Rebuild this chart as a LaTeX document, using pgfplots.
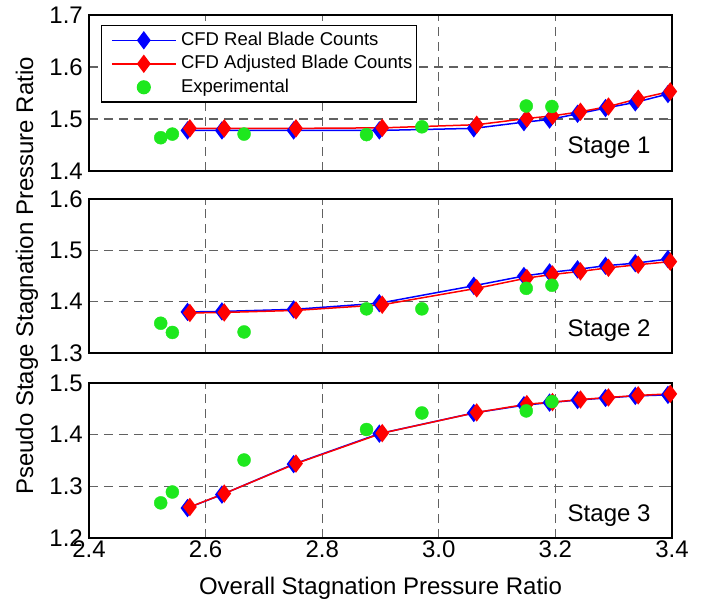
\documentclass[border=0pt]{standalone}
\usepackage{pgfplots}
\pgfplotsset{compat=1.18}
\usepackage{fontspec}
\setmainfont{Liberation Sans}

\definecolor{cfdblue}{rgb}{0,0,1}
\definecolor{cfdred}{rgb}{1,0,0}
\definecolor{expgreen}{RGB}{30,232,30}

\tikzset{
  stagelabel/.style={anchor=base east, font=\fontsize{24}{28}\selectfont,
    xshift=-18pt, yshift=17pt},
}

\pgfplotsset{
  stage/.style={
    width=583pt, scale only axis,
    xmin=2.4, xmax=3.4,
    xtick={2.4,2.6,2.8,3.0,3.2,3.4},
    grid=major,
    major grid style={dash pattern=on 9pt off 6pt, black!62, line width=1.3pt},
    axis line style={line width=1.6pt},
    tick style={black!60, line width=1pt},
    tick align=inside, major tick length=6pt,
    xtick pos=both, ytick pos=both,
    /pgf/number format/assume math mode=true,
    /pgf/number format/fixed,
    /pgf/number format/fixed zerofill,
    /pgf/number format/precision=1,
    ticklabel style={font=\fontsize{24}{28}\selectfont},
    yticklabel style={inner sep=0pt, xshift=-6pt},
    xticklabel style={inner sep=0pt, yshift=-2.5pt},
    clip=false,
  },
  linelegend/.style={legend image code/.code={%
    \path (-9.5pt,0pt);
    \draw[mark repeat=2, mark phase=2, ##1] plot coordinates {(0pt,0pt) (32pt,0pt) (64pt,0pt)};}},
  marklegend/.style={legend image code/.code={%
    \path (-9.5pt,0pt) (64pt,0pt);
    \draw[##1] plot coordinates {(32pt,0pt)};}},
  realcfd/.style={color=cfdblue, line width=1.5pt, mark=diamond*, mark size=8pt,
    mark options={solid, fill=cfdblue}, linelegend},
  adjcfd/.style={color=cfdred, line width=1.5pt, mark=diamond*, mark size=8pt,
    mark options={solid, fill=cfdred}, linelegend},
  expt/.style={only marks, mark=*, mark size=6.5pt, color=expgreen,
    mark options={fill=expgreen, draw=expgreen}, marklegend},
}

\begin{document}
\begin{tikzpicture}
\useasboundingbox (-89pt,15pt) rectangle (616pt,-585pt);

% ---------------- Stage 1 ----------------
\begin{axis}[stage, at={(0pt,0pt)}, anchor=north west, height=156pt,
  ymin=1.4, ymax=1.7, ytick={1.4,1.5,1.6,1.7}, xticklabels={},
  legend style={at={(axis description cs:0.0206,0.936)}, anchor=north west,
    draw=black, line width=1.1pt, fill=white,
    font=\fontsize{18.5}{22}\selectfont,
    inner xsep=0pt, inner ysep=3pt, row sep=0pt,
    nodes={inner xsep=4.5pt, inner ysep=3pt, text height=13.5pt, text depth=4pt}},
  legend cell align=left]
\addplot[realcfd] coordinates {
  (2.569,1.478) (2.628,1.478) (2.751,1.478) (2.898,1.478) (3.060,1.482)
  (3.146,1.494) (3.190,1.499) (3.238,1.510) (3.286,1.521) (3.337,1.532) (3.393,1.548)};
\addlegendentry{CFD Real Blade Counts}
\addplot[adjcfd] coordinates {
  (2.573,1.482) (2.632,1.482) (2.755,1.482) (2.903,1.483) (3.065,1.489)
  (3.151,1.501) (3.195,1.506) (3.243,1.514) (3.291,1.524) (3.342,1.539) (3.397,1.553)};
\addlegendentry{CFD Adjusted Blade Counts}
\addplot[expt] coordinates {
  (2.523,1.464) (2.543,1.471) (2.666,1.471) (2.876,1.470)
  (2.971,1.485) (3.150,1.525) (3.194,1.524)};
\addlegendentry{Experimental}
\node[stagelabel] at (rel axis cs:1,0) {Stage 1};
\end{axis}

% ---------------- Stage 2 ----------------
\begin{axis}[stage, at={(0pt,-184pt)}, anchor=north west, height=154pt,
  ymin=1.3, ymax=1.6, ytick={1.3,1.4,1.5,1.6}, xticklabels={},
  ylabel={Pseudo Stage Stagnation Pressure Ratio},
  ylabel style={at={(axis description cs:-0.096,0.5)}, anchor=base, inner sep=0pt,
    font=\fontsize{24}{28}\selectfont}]
\addplot[realcfd] coordinates {
  (2.569,1.380) (2.628,1.381) (2.751,1.385) (2.898,1.397) (3.060,1.431)
  (3.146,1.450) (3.190,1.457) (3.238,1.463) (3.286,1.470) (3.337,1.475) (3.393,1.483)};
\addplot[adjcfd] coordinates {
  (2.573,1.378) (2.632,1.379) (2.755,1.383) (2.903,1.394) (3.065,1.426)
  (3.151,1.446) (3.195,1.453) (3.243,1.459) (3.291,1.466) (3.342,1.472) (3.397,1.478)};
\addplot[expt] coordinates {
  (2.523,1.358) (2.543,1.340) (2.666,1.341) (2.876,1.386)
  (2.971,1.386) (3.150,1.426) (3.194,1.432)};
\node[stagelabel] at (rel axis cs:1,0) {Stage 2};
\end{axis}

% ---------------- Stage 3 ----------------
\begin{axis}[stage, at={(0pt,-368pt)}, anchor=north west, height=155pt,
  ymin=1.2, ymax=1.5, ytick={1.2,1.3,1.4,1.5},
  xlabel={Overall Stagnation Pressure Ratio},
  xlabel style={at={(axis description cs:0.5,0)}, anchor=base, inner sep=0pt,
    yshift=-56pt, font=\fontsize{24}{28}\selectfont}]
\addplot[realcfd] coordinates {
  (2.569,1.258) (2.628,1.284) (2.751,1.343) (2.898,1.402) (3.060,1.442)
  (3.146,1.457) (3.190,1.462) (3.238,1.467) (3.286,1.471) (3.337,1.475) (3.393,1.477)};
\addplot[adjcfd] coordinates {
  (2.573,1.260) (2.632,1.286) (2.755,1.344) (2.903,1.403) (3.065,1.443)
  (3.151,1.459) (3.195,1.463) (3.243,1.468) (3.291,1.472) (3.342,1.476) (3.397,1.479)};
\addplot[expt] coordinates {
  (2.523,1.268) (2.543,1.289) (2.666,1.351) (2.876,1.410)
  (2.971,1.442) (3.150,1.446) (3.194,1.464)};
\node[stagelabel] at (rel axis cs:1,0) {Stage 3};
\end{axis}
\end{tikzpicture}
\end{document}
